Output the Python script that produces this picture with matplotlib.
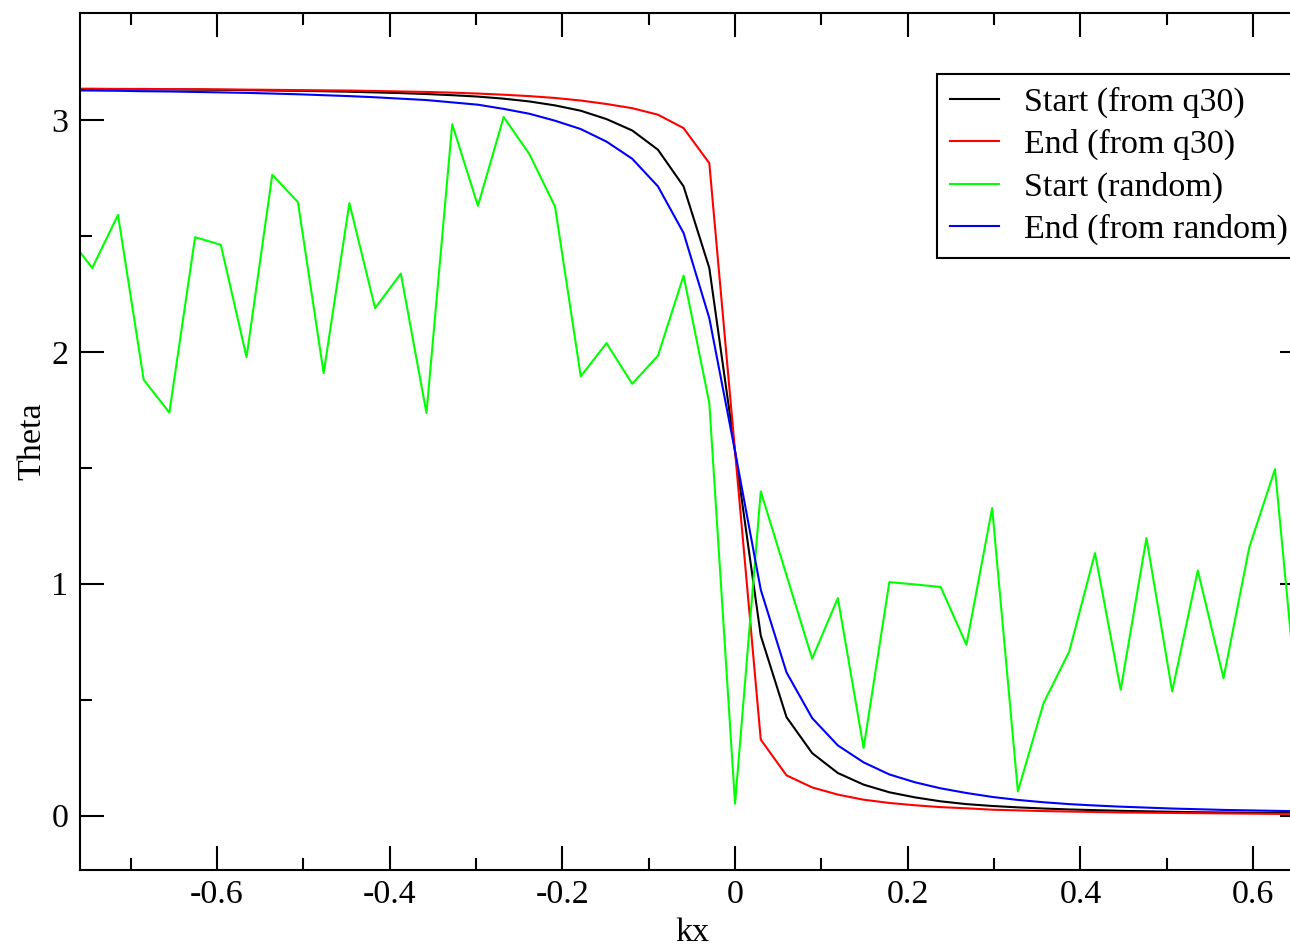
import matplotlib
matplotlib.use("Agg")
import matplotlib.pyplot as plt
from matplotlib.ticker import MultipleLocator, FuncFormatter

plt.rcParams['font.family'] = ['Liberation Serif', 'DejaVu Serif']
plt.rcParams['axes.unicode_minus'] = False

kx = [-0.7743, -0.7445, -0.7147, -0.6849, -0.6552, -0.6254, -0.5956, -0.5658,
      -0.5360, -0.5063, -0.4765, -0.4467, -0.4169, -0.3871, -0.3574, -0.3276,
      -0.2978, -0.2680, -0.2382, -0.2085, -0.1787, -0.1489, -0.1191, -0.0893,
      -0.0596, -0.0298, 0.0, 0.0298, 0.0596, 0.0893, 0.1191, 0.1489, 0.1787,
      0.2085, 0.2382, 0.2680, 0.2978, 0.3276, 0.3574, 0.3871, 0.4169, 0.4467,
      0.4765, 0.5063, 0.5360, 0.5658, 0.5956, 0.6254, 0.6552]

start_q30 = [3.133, 3.132, 3.132, 3.131, 3.131, 3.130, 3.129, 3.128, 3.126, 3.125,
             3.123, 3.121, 3.118, 3.115, 3.111, 3.106, 3.100, 3.091, 3.079, 3.062,
             3.039, 3.003, 2.954, 2.871, 2.713, 2.361, 1.571, 0.776, 0.425, 0.270,
             0.184, 0.134, 0.101, 0.079, 0.062, 0.050, 0.042, 0.036, 0.031, 0.027,
             0.024, 0.021, 0.019, 0.017, 0.015, 0.014, 0.013, 0.012, 0.011]

end_q30 = [3.134, 3.134, 3.133, 3.133, 3.132, 3.132, 3.131, 3.130, 3.129, 3.128,
           3.127, 3.126, 3.124, 3.122, 3.120, 3.117, 3.113, 3.108, 3.102, 3.094,
           3.083, 3.068, 3.050, 3.022, 2.964, 2.813, 1.571, 0.328, 0.174, 0.122,
           0.091, 0.069, 0.055, 0.045, 0.037, 0.032, 0.026, 0.023, 0.020, 0.018,
           0.016, 0.014, 0.013, 0.012, 0.011, 0.010, 0.009, 0.008, 0.008]

start_random = [2.505, 2.361, 2.590, 1.879, 1.738, 2.494, 2.461, 1.977, 2.763, 2.645,
                1.908, 2.641, 2.188, 2.337, 1.736, 2.981, 2.629, 3.012, 2.852, 2.626,
                1.894, 2.037, 1.862, 1.983, 2.328, 1.779, 0.052, 1.398, 1.037, 0.677,
                0.938, 0.292, 1.007, 0.997, 0.986, 0.737, 1.326, 0.105, 0.486, 0.708,
                1.132, 0.543, 1.197, 0.536, 1.057, 0.593, 1.157, 1.494, 0.330]

end_random = [3.127, 3.126, 3.125, 3.123, 3.122, 3.120, 3.118, 3.116, 3.113, 3.110,
              3.106, 3.102, 3.097, 3.091, 3.085, 3.075, 3.065, 3.047, 3.026, 2.996,
              2.960, 2.906, 2.832, 2.713, 2.512, 2.145, 1.571, 0.974, 0.618, 0.421,
              0.303, 0.230, 0.178, 0.144, 0.118, 0.098, 0.081, 0.068, 0.058, 0.050,
              0.044, 0.039, 0.035, 0.031, 0.028, 0.025, 0.023, 0.021, 0.019]

labels = ["Start (from q30)", "End (from q30)", "Start (random)", "End (from random)"]

W, H = 1290, 947
fig = plt.figure(figsize=(W / 100, H / 100), dpi=100)
ax = fig.add_axes([80 / W, 77 / H, 1224 / W, 856.7 / H])

lw = 1.5
ax.plot(kx, start_q30, color='#000000', lw=lw, label=labels[0])
ax.plot(kx, end_q30, color='#ff0000', lw=lw, label=labels[1])
ax.plot(kx, start_random, color='#00ff00', lw=lw, label=labels[2])
ax.plot(kx, end_random, color='#0000ff', lw=lw, label=labels[3])

ax.set_xlim(-0.7587, 0.659)
ax.set_ylim(-0.234, 3.459)

ax.xaxis.set_major_locator(MultipleLocator(0.2))
ax.xaxis.set_minor_locator(MultipleLocator(0.1))
ax.yaxis.set_major_locator(MultipleLocator(1))
ax.yaxis.set_minor_locator(MultipleLocator(0.5))

fmt = FuncFormatter(lambda v, p: ("%g" % round(v, 6)))
ax.xaxis.set_major_formatter(fmt)
ax.yaxis.set_major_formatter(fmt)

fs = 24.5
ax.tick_params(which='both', direction='in', top=True, right=True, width=1.5,
               labelsize=fs)
ax.tick_params(which='major', length=17.3)
ax.tick_params(which='minor', length=8.6)
ax.tick_params(axis='x', which='major', pad=7)
ax.tick_params(axis='y', which='major', pad=8.5)
for s in ax.spines.values():
    s.set_linewidth(1.5)

ax.set_xlabel("kx", fontsize=fs)
ax.set_ylabel("Theta", fontsize=fs)
ax.xaxis.set_label_coords(0.5, -0.056)
ax.yaxis.set_label_coords(-0.027, 0.5)

leg = ax.legend(loc='upper left', bbox_to_anchor=(937 / W, 1 - 74 / H),
                bbox_transform=fig.transFigure, borderaxespad=0, fontsize=fs,
                handlelength=1.45, handletextpad=0.75, labelspacing=0.33,
                borderpad=0.37, fancybox=False, framealpha=1, edgecolor='black')
leg.get_frame().set_linewidth(1.5)

fig.savefig("out.png", dpi=100)
